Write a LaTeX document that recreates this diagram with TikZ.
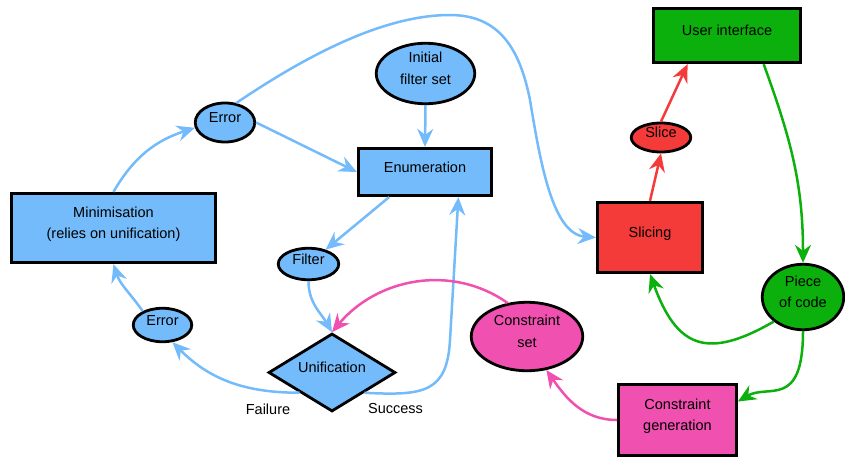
\documentclass[tikz,border=0pt]{standalone}
\usepackage{fontspec}
\setmainfont{Liberation Sans}
\usepackage{xcolor}
\usepackage{tikz}
\usetikzlibrary{arrows.meta,shapes.geometric}
\definecolor{bl}{HTML}{73BBFA}
\definecolor{rd}{HTML}{F53A3A}
\definecolor{gr}{HTML}{0CB00C}
\definecolor{pk}{HTML}{F050B0}
\tikzset{
  shp/.style={draw=black, line width=2.8pt, inner sep=0pt, text height=6pt, text depth=6pt,
    font=\fontsize{14.5}{21.5}\selectfont},
  box/.style={shp, rectangle},
  oval/.style={shp, ellipse},
  rhomb/.style={shp, diamond, aspect=1.6},
  two/.style={align=center, text height=27.5pt, text depth=6pt},
  flow/.style={line width=2.5pt, -{Stealth[length=18pt,width=16pt,inset=6pt]}},
  lbl/.style={font=\fontsize{14.5}{21.5}\selectfont, inner sep=0pt},
}

\begin{document}
\begin{tikzpicture}[x=1pt,y=1pt]
  \useasboundingbox (0,0) rectangle (845,-458);

  \node[box, two, fill=bl, minimum width=204.5pt, minimum height=69.5pt] (mini) at (113.5,-228) {Minimisation\\(relies on unification)};
  \node[oval, fill=bl, minimum width=59.5pt, minimum height=39pt] (err1) at (225,-122.5) {Error};
  \node[oval, two, fill=bl, minimum width=98.5pt, minimum height=60.5pt] (init) at (425.5,-73.5) {Initial\\filter set};
  \node[box, fill=bl, minimum width=133.5pt, minimum height=47.5pt] (enum) at (425,-172) {Enumeration};
  \node[oval, fill=bl, minimum width=60.5pt, minimum height=31.5pt] (filter) at (308.5,-264) {Filter};
  \node[oval, fill=bl, minimum width=58.5pt, minimum height=33.5pt] (err2) at (162.5,-325) {Error};
  \node[rhomb, fill=bl, minimum width=127pt, minimum height=78pt] (unif) at (332,-372.5) {Unification};
  \node[oval, two, fill=pk, minimum width=111.5pt, minimum height=68.5pt] (cset) at (527,-336.5) {Constraint\\set};
  \node[box, fill=rd, minimum width=105.5pt, minimum height=70.5pt] (slicing) at (650,-237.5) {Slicing};
  \node[oval, fill=rd, minimum width=59.5pt, minimum height=29pt] (slice) at (661,-137.5) {Slice};
  \node[box, fill=gr, minimum width=147.5pt, minimum height=54.5pt] (ui) at (727,-35.5) {User interface};
  \node[oval, two, fill=gr, minimum width=81.5pt, minimum height=65.5pt] (pcode) at (803,-297) {Piece\\of code};
  \node[box, two, fill=pk, minimum width=118pt, minimum height=71.5pt] (cgen) at (677.5,-420) {Constraint\\generation};
  \node[lbl] (fail) at (268,-409) {Failure};
  \node[lbl] (succ) at (395.5,-409) {Success};

  \draw[flow, bl] (mini.north) to[out=60,in=198] (err1.190);
  \draw[flow, bl] (err1.60) .. controls (300,-60) and (380,-15) .. (450,-15)
    .. controls (500,-15) and (520,-50) .. (530,-100)
    .. controls (540,-160) and (552,-234) .. (slicing.west);
  \draw[flow, bl] (err1.east) -- (enum.west);
  \draw[flow, bl] (init.south) -- (enum.north);
  \draw[flow, bl] (enum.215) -- (filter.40);
  \draw[flow, bl] (filter.south) to[out=-90,in=120] (unif.north);
  \draw[flow, bl] (unif.212) to[out=180,in=-45] (err2.-60);
  \draw[flow, bl] (unif.-32) .. controls (425,-396) and (447,-392) .. (450,-340) -- (enum.-37);
  \draw[flow, bl] (err2.145) to[out=125,in=-72] (mini.south);
  \draw[flow, pk] (cset.120) to[out=145,in=50] (unif.north);
  \draw[flow, pk] (cgen.west) to[out=180,in=-55] (cset.-60);
  \draw[flow, rd] (slicing.north) -- (slice.south);
  \draw[flow, rd] (slice.north) -- (ui.216);
  \draw[flow, gr] (ui.-38) to[out=-70,in=90] (pcode.north);
  \draw[flow, gr] (pcode.220) to[out=-150,in=-70,looseness=1.5] (slicing.south);
  \draw[flow, gr] (pcode.south) .. controls (803,-410) and (768,-383.5) .. (cgen.17);
\end{tikzpicture}
\end{document}
